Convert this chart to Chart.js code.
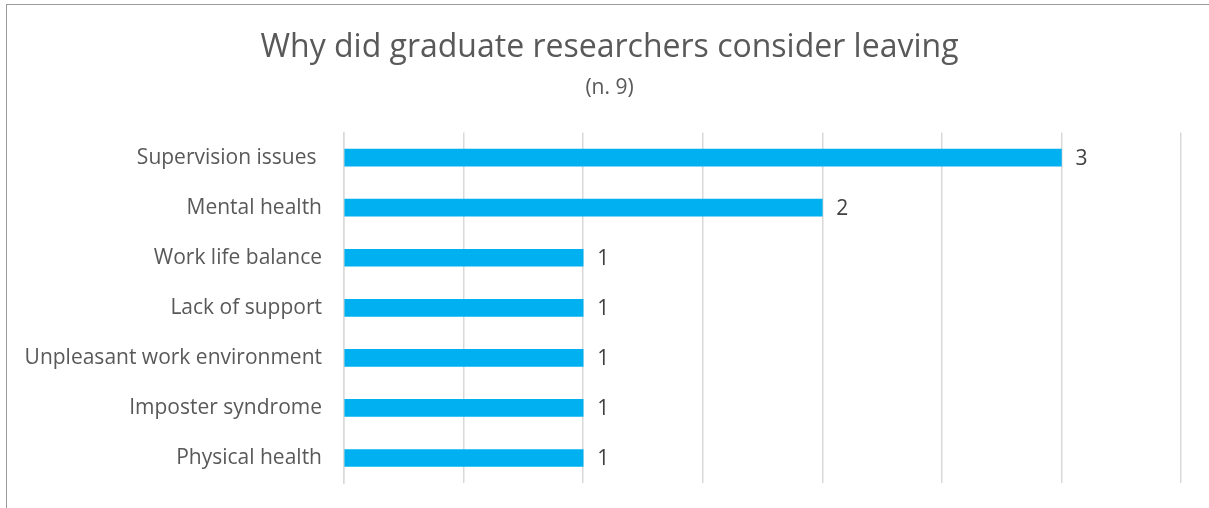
<!DOCTYPE html>
<html>
<head>
<meta charset="utf-8">
<script src="https://cdn.jsdelivr.net/npm/chart.js@4"></script>
<style>
  html, body { margin: 0; padding: 0; background: #fff; overflow: hidden; }
  #wrap { position: relative; width: 1209px; height: 508px; }
  #frame { position: absolute; left: 6px; top: 4px; width: 1300px; height: 600px;
           border: 1px solid #9a9a9a; box-sizing: border-box; pointer-events: none; }
  canvas { position: absolute; left: 0; top: 0; }
</style>
</head>
<body>
<div id="wrap">
  <canvas id="c" width="1209" height="508"></canvas>
  <div id="frame"></div>
</div>
<script>
const categories = [
  'Supervision issues ',
  'Mental health',
  'Work life balance',
  'Lack of support',
  'Unpleasant work environment',
  'Imposter syndrome',
  'Physical health'
];
const counts = [3, 2, 1, 1, 1, 1, 1];
const axisMax = 3.5;
const axisStep = 0.5;

const FONT = "'Open Sans', sans-serif";

// Writes each bar's count just past its end
const valueLabels = {
  id: 'valueLabels',
  afterDatasetsDraw(chart) {
    const ctx = chart.ctx;
    const meta = chart.getDatasetMeta(0);
    ctx.save();
    ctx.font = '21px ' + FONT;
    ctx.fillStyle = '#404040';
    ctx.textAlign = 'left';
    ctx.textBaseline = 'middle';
    meta.data.forEach((bar, i) => {
      ctx.fillText(String(counts[i]), bar.x + 14, bar.y + 1);
    });
    ctx.restore();
  }
};

new Chart(document.getElementById('c'), {
  type: 'bar',
  data: {
    labels: categories,
    datasets: [{
      data: counts,
      backgroundColor: '#00B0F0',
      borderWidth: 0,
      barThickness: 17
    }]
  },
  options: {
    indexAxis: 'y',
    responsive: false,
    animation: false,
    layout: { padding: { top: 5, right: 0, bottom: 25, left: 10 } },
    plugins: {
      legend: { display: false },
      tooltip: { enabled: false },
      title: {
        display: true,
        text: 'Why did graduate researchers consider leaving',
        color: '#595959',
        font: { family: FONT, size: 32, weight: 'normal', lineHeight: 1.2 },
        padding: { top: 24, bottom: 8 }
      },
      subtitle: {
        display: true,
        text: '(n. 9)',
        color: '#595959',
        font: { family: FONT, size: 21, weight: 'normal', lineHeight: 1.2 },
        padding: { top: 0, bottom: 32 }
      }
    },
    scales: {
      x: {
        min: 0,
        max: axisMax,
        ticks: { display: false, stepSize: axisStep },
        grid: { color: '#d9d9d9', lineWidth: 1.5, drawTicks: false },
        border: { display: false },
        afterFit(scale) {
          scale.height = 0;
          scale.paddingLeft = scale.paddingRight = 0;
        }
      },
      y: {
        ticks: {
          color: '#595959',
          font: { family: FONT, size: 21 },
          padding: 22
        },
        grid: { display: false, drawTicks: false },
        border: { display: true, color: '#d9d9d9', width: 1.5 },
        afterFit(scale) {
          scale.width = 334;
          scale.paddingTop = scale.paddingBottom = 0;
        }
      },
      // empty right-hand margin beside the plot
      yRight: {
        type: 'linear',
        position: 'right',
        ticks: { display: false },
        grid: { display: false, drawTicks: false },
        border: { display: false },
        afterFit(scale) {
          scale.width = 28;
          scale.paddingTop = scale.paddingBottom = 0;
        }
      }
    }
  },
  plugins: [valueLabels]
});
</script>
</body>
</html>
